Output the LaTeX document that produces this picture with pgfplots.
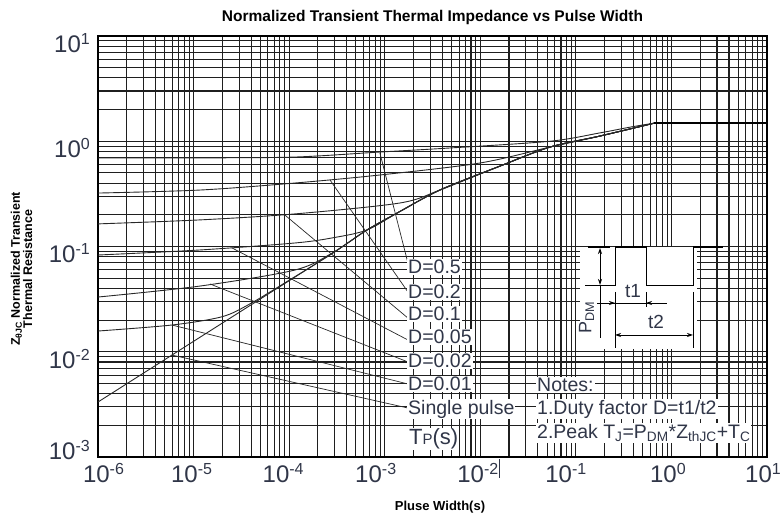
\documentclass[border=0pt]{standalone}
\usepackage{fontspec}
\setmainfont{Liberation Sans}
\usepackage{pgfplots}
\pgfplotsset{compat=1.18}
\usetikzlibrary{arrows.meta}
\definecolor{tcol}{RGB}{48,54,72}
\definecolor{ccol}{RGB}{40,40,40}
\newcommand\fs[1]{\fontsize{#1}{#1}\selectfont}
\newcommand\ylab[1]{10\raisebox{8pt}{\fs{16}#1}}
\newcommand\lsh[2]{\hspace*{#1pt}\ylab{#2}}
\newcommand\rsh[2]{\ylab{#2}\hspace*{#1pt}}
\tikzset{arr/.style={line width=0.8pt}, tip/.tip={Stealth[length=6pt,width=4pt]}}
\begin{document}
\begin{tikzpicture}
\begin{axis}[
  scale only axis, width=669pt, height=421pt,
  xmode=log, ymode=log,
  xmin=1e-6, xmax=10, ymin=1e-3, ymax=10,
  xtick={1e-6,1e-5,1e-4,1e-3,1e-2,1e-1,1,10},
  xticklabels={{\lsh{11}{-6}},{\rsh{4}{-5}},{\rsh{12}{-4}},{\rsh{18}{-3}},{\rsh{5}{-2}},{\rsh{20}{-1}},{\rsh{7}{0}},{\rsh{8}{1}}},
  ytick={1e-3,1e-2,1e-1,1,10},
  yticklabels={{\raisebox{14pt}[\height][\depth]{\ylab{-3}}},{\ylab{-2}},{\ylab{-1}},{\ylab{0}},{\ylab{1}}},
  minor xtick={2e-6,3e-6,4e-6,5e-6,6e-6,7e-6,8e-6,9e-6,
               2e-5,3e-5,4e-5,5e-5,6e-5,7e-5,8e-5,9e-5,
               2e-4,3e-4,4e-4,5e-4,6e-4,7e-4,8e-4,9e-4,
               2e-3,3e-3,4e-3,5e-3,6e-3,7e-3,8e-3,9e-3,
               0.02,0.03,0.04,0.05,0.06,0.07,0.08,0.09,
               0.2,0.3,0.4,0.5,0.6,0.7,0.8,0.9,
               2,3,4,5,6,7,8,9},
  minor ytick={2e-3,3e-3,4e-3,5e-3,6e-3,7e-3,8e-3,9e-3,
               0.02,0.03,0.04,0.05,0.06,0.07,0.08,0.09,
               0.2,0.3,0.4,0.5,0.6,0.7,0.8,0.9,
               2,3,4,5,6,7,8,9},
  grid=both,
  major grid style={black!88, line width=1.1pt},
  minor grid style={black!88, line width=1.1pt},
  tick style={draw=none},
  axis line style={black, line width=1.2pt},
  xticklabel style={font=\fs{24}, text=tcol, anchor=north, inner sep=0pt, yshift=-6pt},
  yticklabel style={font=\fs{24}, text=tcol, anchor=east, inner sep=0pt, xshift=-8pt, yshift=-7pt},
]
% D = 0.5
\addplot[ccol, line width=0.9pt, smooth, tension=0.5] coordinates {
 (1e-6,0.693) (1.17e-5,0.695) (1.15e-4,0.708) (8.91e-4,0.79) (4.81e-3,0.863)
 (5.35e-2,1.0) (0.178,1.2) (0.367,1.36) (0.67,1.49)};
% D = 0.2
\addplot[ccol, line width=0.9pt, smooth, tension=0.5] coordinates {
 (1e-6,0.322) (1.17e-5,0.344) (1.15e-4,0.401) (8.91e-4,0.478) (9.9e-3,0.621)
 (5.35e-2,0.88) (0.178,1.12) (0.67,1.49)};
% D = 0.1
\addplot[ccol, line width=0.9pt, smooth, tension=0.5] coordinates {
 (1e-6,0.164) (1.17e-5,0.179) (1.15e-4,0.204) (1.44e-3,0.259) (3.78e-3,0.344)
 (1.6e-2,0.58) (5.35e-2,0.88) (0.178,1.12) (0.67,1.49)};
% D = 0.05
\addplot[ccol, line width=0.9pt, smooth, tension=0.5] coordinates {
 (1e-6,0.083) (1.17e-5,0.0927) (1.15e-4,0.108) (2.87e-4,0.121) (6.52e-4,0.1435)
 (1.44e-3,0.215) (3.78e-3,0.344) (1.6e-2,0.58) (5.35e-2,0.88) (0.178,1.12) (0.67,1.49)};
% D = 0.02
\addplot[ccol, line width=0.9pt, smooth, tension=0.5] coordinates {
 (1e-6,0.0331) (1.17e-5,0.0421) (1.15e-4,0.0598) (2.87e-4,0.0875) (6.52e-4,0.1435)
 (1.44e-3,0.215) (3.78e-3,0.344) (1.6e-2,0.58) (5.35e-2,0.88) (0.178,1.12) (0.67,1.49)};
% D = 0.01
\addplot[ccol, line width=0.9pt, smooth, tension=0.5] coordinates {
 (1e-6,0.01574) (5.94e-6,0.01795) (1.98e-5,0.0215) (3.89e-5,0.0285) (1e-4,0.0478)
 (2.87e-4,0.0867) (6.52e-4,0.1435) (1.44e-3,0.215) (3.78e-3,0.344) (1.6e-2,0.58)
 (5.35e-2,0.88) (0.178,1.12) (0.67,1.49)};
% Single pulse
\addplot[ccol, line width=0.9pt, smooth, tension=0.5] coordinates {
 (1e-6,0.00333) (1e-5,0.01256) (1e-4,0.0473) (2.87e-4,0.0867) (6.52e-4,0.1435)
 (1.44e-3,0.215) (3.78e-3,0.344) (1.6e-2,0.58) (5.35e-2,0.88) (0.178,1.12) (0.67,1.49)};
% common flat part
\addplot[black, line width=1.1pt] coordinates {(0.65,1.49) (9.99,1.49)};
% leader lines
\addplot[ccol, line width=0.7pt] coordinates {(8.91e-4,0.773) (1.75e-3,0.0697)};
\addplot[ccol, line width=0.7pt] coordinates {(2.67e-4,0.43) (1.75e-3,0.037)};
\addplot[ccol, line width=0.7pt] coordinates {(9.03e-5,0.199) (1.75e-3,0.0209)};
\addplot[ccol, line width=0.7pt] coordinates {(2.52e-5,0.097) (1.75e-3,0.01294)};
\addplot[ccol, line width=0.7pt] coordinates {(1.49e-5,0.044) (1.75e-3,0.0080)};
\addplot[ccol, line width=0.7pt] coordinates {(5.94e-6,0.01795) (1.75e-3,0.00494)};
\addplot[ccol, line width=0.7pt] coordinates {(5.94e-6,0.0093) (1.75e-3,0.00292)};
\end{axis}
% curve labels
\begin{scope}[every node/.style={anchor=west, fill=white, inner sep=1pt, text=tcol, font=\fs{19.5}}]
\node at (309pt,190pt) {D=0.5};
\node at (309pt,165pt) {D=0.2};
\node at (309pt,143pt) {D=0.1};
\node at (309pt,120pt) {D=0.05};
\node at (309pt,96pt) {D=0.02};
\node at (309pt,73pt) {D=0.01};
\node at (309pt,48pt) {Single pulse};
\node at (438pt,72pt) {Notes:};
\node at (438pt,48pt) {1.Duty factor D=t1/t2};
\node at (438pt,24pt) {2.Peak T\textsubscript{J}=P\textsubscript{DM}*Z\textsubscript{thJC}+T\textsubscript{C}};
\node at (310pt,18pt) {\fs{22}T\fs{15}P\fs{22}(s)};
\end{scope}
% pulse inset
\fill[white] (482pt,108pt) rectangle (599pt,210pt);
\draw[line width=1pt] (487pt,171pt) -- (517pt,171pt) -- (517pt,210pt) -- (548pt,210pt)
  -- (548pt,171pt) -- (595pt,171pt) -- (595pt,210pt) -- (625pt,210pt);
\draw[line width=1.8pt] (490pt,210pt) -- (512pt,210pt);
\draw[line width=1.8pt] (517pt,210pt) -- (548pt,210pt);
\draw[line width=1.8pt] (595pt,210pt) -- (625pt,210pt);
\draw[arr, {tip}-{tip}] (502pt,209pt) -- (502pt,172pt);
\draw[arr] (502pt,172pt) -- (502pt,119pt);
\node[rotate=90, text=tcol, font=\fs{18}, inner sep=0pt] at (488.5pt,139.5pt) {P\textsubscript{DM}};
\draw[arr] (499pt,154pt) -- (569pt,154pt);
\draw[arr, -{tip}] (505pt,154pt) -- (517pt,154pt);
\draw[arr, -{tip}] (562pt,154pt) -- (548pt,154pt);
\draw[arr] (517pt,165pt) -- (517pt,109pt);
\draw[arr] (548pt,165pt) -- (548pt,150pt);
\draw[arr] (595pt,165pt) -- (595pt,109pt);
\draw[arr, {tip}-{tip}] (517pt,122pt) -- (595pt,122pt);
\node[text=tcol, font=\fs{19}, inner sep=0pt] at (535pt,166pt) {t1};
\node[text=tcol, font=\fs{19}, inner sep=0pt] at (558pt,135pt) {t2};
% titles
\node[font=\bfseries\fs{15.5}] at (334.5pt,439pt) {Normalized Transient Thermal Impedance vs Pulse Width};
\node[font=\bfseries\fs{13}] at (342pt,-50pt) {Pluse Width(s)};
\node[rotate=90, align=center, font=\bfseries\fontsize{12.5}{11}\selectfont] at (-76.5pt,188pt)
  {Z\textsubscript{θJC} Normalized Transient\\Thermal Resistance};
\draw[line width=1pt, tcol] (401.5pt,-2pt) -- (401.5pt,-21pt);
\pgfresetboundingbox
\useasboundingbox (-98pt,-61pt) rectangle (683pt,457pt);
\end{tikzpicture}
\end{document}
